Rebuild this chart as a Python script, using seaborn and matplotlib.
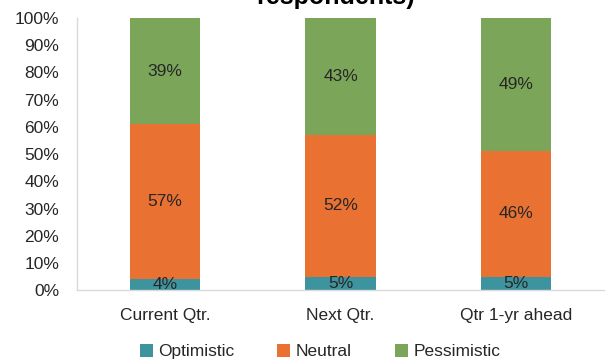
import matplotlib
matplotlib.use("Agg")
import matplotlib.pyplot as plt
import seaborn as sns
import pandas as pd
import numpy as np
from matplotlib.patches import Patch

categories = ["Current Qtr.", "Next Qtr.", "Qtr 1-yr ahead"]
optimistic = [4, 5, 5]
neutral = [57, 52, 46]
pessimistic = [39, 43, 49]
series_names = ["Optimistic", "Neutral", "Pessimistic"]
colors = ["#3E949E", "#E97132", "#7BA65A"]
yticks = list(range(0, 101, 10))

sns.set_theme(style="white")
plt.rcParams['font.family'] = ['Liberation Sans', 'DejaVu Sans']

FS = 12.5

df = pd.DataFrame({"category": categories, "Optimistic": optimistic,
                   "Neutral": neutral, "Pessimistic": pessimistic})
df["cum_opt"] = df["Optimistic"]
df["cum_neu"] = df["Optimistic"] + df["Neutral"]
df["cum_pes"] = df["cum_neu"] + df["Pessimistic"]

fig = plt.figure(figsize=(6.07, 3.6), dpi=100)
ax = fig.add_axes([0.127, 0.194, 0.868, 0.756])

for col, c in zip(["cum_pes", "cum_neu", "cum_opt"], colors[::-1]):
    sns.barplot(data=df, x="category", y=col, color=c, width=0.4,
                saturation=1, ax=ax, errorbar=None, linewidth=0)

# labels
for i in range(len(categories)):
    bottoms = [0, optimistic[i], optimistic[i] + neutral[i]]
    vals = [optimistic[i], neutral[i], pessimistic[i]]
    for b, v in zip(bottoms, vals):
        ax.text(i, b + v / 2, f"{v}%", ha="center", va="center",
                fontsize=FS, color="#262626")

ax.set_xlim(-0.5, 2.5)
ax.set_ylim(0, 100)
ax.set_yticks(yticks)
ax.set_yticklabels([f"{t}%" for t in yticks], fontsize=FS, color="#262626")
ax.tick_params(axis="x", labelsize=FS, colors="#262626", length=0, pad=13)
ax.tick_params(axis="y", length=0, pad=13)
ax.set_xlabel("")
ax.set_ylabel("")
for s in ["top", "right"]:
    ax.spines[s].set_visible(False)
for s in ["left", "bottom"]:
    ax.spines[s].set_color("#D9D9D9")
    ax.spines[s].set_linewidth(1)

handles = [Patch(facecolor=c, edgecolor="none") for c in colors]
fig.legend(handles, series_names, loc="lower center", bbox_to_anchor=(0.527, -0.042),
           ncol=3, frameon=False, fontsize=FS, handlelength=0.75, handleheight=0.75,
           handletextpad=0.3, columnspacing=2.5)

fig.text(0.553, 1.008, "respondents)", ha="center", va="center",
         fontsize=18, fontweight="bold", color="#000000")

fig.savefig("out.png", dpi=100)
